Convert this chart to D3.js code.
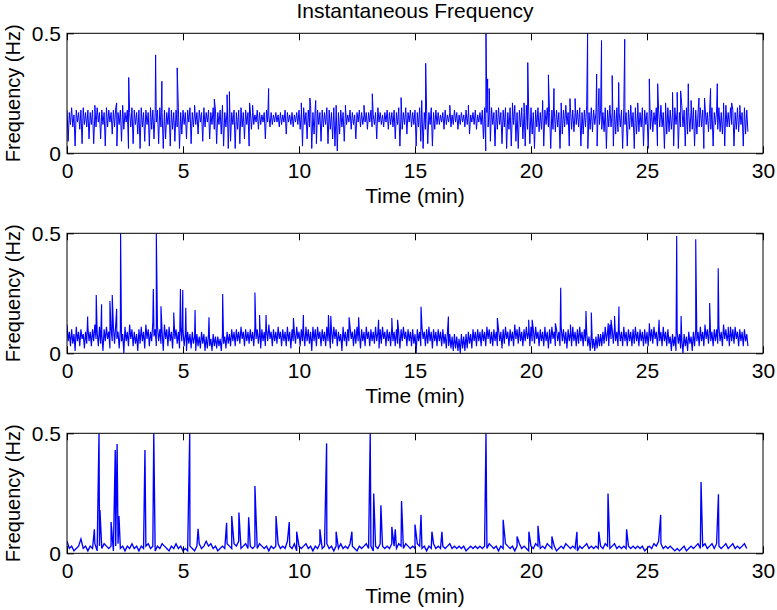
<!DOCTYPE html>
<html><head><meta charset="utf-8">
<script src="https://cdn.jsdelivr.net/npm/d3@7"></script>
<style>
html,body{margin:0;padding:0;background:#fff;}
svg{display:block;}
text{font-family:"Liberation Sans",Arial,Helvetica,sans-serif;fill:#000;}
</style></head><body>
<svg id="chart" width="777" height="610"></svg>
<script>
// ---- Data (time in min, frequency in Hz) ----
const title = "Instantaneous Frequency";
const xLabel = "Time  (min)";
const yLabel = "Frequency (Hz)";
const xTicks = [0, 5, 10, 15, 20, 25, 30];
const yTicks = [0, 0.5];
const yTickLabels = ["0", "0.5"];
const sliceStep = 0.1; // each slice of 0.1 min: upper value, then lower value (half a slice later)

// Panel 1: upper / lower values per 0.1-min slice
const hi1 = [
.18,.17,.19,.16,.18,.17,.18,.19,.17,.18, .17,.18,.16,.19,.17,.18,.17,.19,.18,.17,
.18,.19,.17,.18,.20,.17,.18,.17,.19,.18, .17,.18,.19,.17,.18,.17,.19,.18,.17,.18,
.19,.17,.18,.17,.19,.18,.17,.18,.19,.17, .18,.17,.18,.19,.17,.18,.17,.18,.17,.19,
.17,.18,.17,.19,.18,.17,.18,.20,.17,.18, .19,.17,.18,.17,.18,.19,.17,.18,.17,.18,
.17,.16,.18,.17,.16,.17,.18,.16,.17,.16, .17,.16,.17,.16,.18,.17,.16,.17,.16,.17,
.18,.17,.19,.17,.18,.20,.17,.19,.18,.17, .18,.17,.19,.18,.17,.19,.18,.17,.18,.17,
.17,.16,.18,.17,.16,.17,.18,.17,.16,.17, .17,.18,.16,.17,.19,.17,.16,.17,.18,.17,
.17,.18,.17,.19,.18,.17,.19,.17,.18,.17, .18,.17,.19,.18,.17,.18,.17,.19,.17,.18,
.17,.16,.17,.18,.16,.17,.16,.18,.17,.16, .17,.16,.18,.17,.16,.17,.18,.16,.17,.18,
.19,.17,.18,.19,.17,.18,.19,.17,.18,.19, .17,.19,.18,.20,.17,.18,.19,.17,.20,.18,
.19,.17,.18,.19,.17,.20,.18,.19,.17,.18, .19,.18,.17,.19,.18,.20,.17,.19,.18,.17,
.18,.19,.17,.18,.20,.17,.19,.18,.17,.19, .18,.17,.19,.18,.20,.17,.18,.19,.17,.18,
.19,.17,.18,.20,.17,.19,.18,.17,.19,.18, .17,.19,.18,.17,.19,.18,.20,.17,.18,.19,
.18,.17,.19,.18,.17,.20,.18,.19,.17,.18, .19,.18,.17,.19,.18,.20,.17,.18,.19,.17,
.18,.19,.17,.18,.20,.17,.19,.18,.17,.19, .18,.17,.19,.18];
const lo1 = [
.05,.12,.11,.03,.13,.10,.04,.12,.11,.06, .12,.04,.11,.13,.06,.12,.03,.11,.13,.08,
.11,.03,.12,.05,.10,.13,.02,.11,.04,.12, .08,.02,.11,.05,.12,.03,.10,.06,.13,.04,
.11,.02,.06,.12,.03,.10,.05,.11,.02,.08, .12,.06,.13,.04,.11,.12,.08,.13,.05,.11,
.13,.06,.12,.10,.04,.12,.08,.03,.11,.02, .05,.12,.02,.10,.04,.11,.06,.12,.03,.10,
.12,.13,.10,.12,.13,.06,.13,.11,.12,.13, .13,.11,.12,.13,.08,.13,.12,.11,.13,.12,
.10,.03,.12,.06,.11,.02,.08,.04,.12,.05, .11,.12,.04,.10,.06,.03,.01,.08,.11,.05,
.12,.13,.10,.12,.06,.13,.11,.12,.13,.10, .13,.11,.12,.06,.13,.12,.11,.13,.10,.12,
.11,.06,.12,.03,.10,.12,.08,.13,.11,.12, .03,.11,.05,.02,.10,.04,.12,.03,.10,.12,
.12,.13,.10,.12,.13,.11,.12,.13,.10,.12, .13,.11,.12,.08,.13,.12,.10,.13,.12,.06,
.01,.11,.05,.12,.03,.10,.12,.04,.11,.02, .10,.03,.12,.05,.02,.11,.06,.03,.10,.04,
.08,.02,.11,.09,.10,.03,.12,.11,.02,.10, .09,.11,.02,.08,.11,.12,.03,.10,.09,.12,
.11,.03,.08,.11,.02,.10,.09,.12,.03,.12, .10,.09,.02,.11,.11,.03,.08,.09,.11,.02,
.12,.03,.10,.11,.02,.08,.09,.11,.03,.12, .02,.10,.09,.12,.03,.11,.11,.02,.08,.09,
.10,.03,.12,.02,.11,.11,.03,.08,.09,.10, .03,.08,.11,.11,.02,.12,.09,.10,.03,.12,
.10,.09,.08,.03,.11,.11,.12,.03,.10,.09, .12,.03,.08,.09];
const spikeT1 = [1.2,2.14,2.66,3.82,4.09,4.75,5.5,6.35,6.90,7.00,7.87,8.0,8.69,10.10,10.47,10.72,11.60,12.0,12.8,13.16,14.40,15.29,15.46,16.5,17.3,18.06,18.13,18.20,19.2,19.70,19.86,20.50,20.75,20.99,21.3,21.68,21.90,22.44,22.83,22.93,23.04,23.50,23.78,24.04,24.6,25.10,25.46,25.8,26.10,26.30,26.45,26.78,26.9,27.24,27.48,27.74,28.03,28.3,28.65,29.0];
const spikeV1 = [0.2,0.21,0.316,0.41,0.30,0.356,0.2,0.226,0.244,0.257,0.21,0.2,0.27,0.21,0.23,0.22,0.2,0.2,0.2,0.248,0.232,0.22,0.375,0.2,0.2,0.5,0.31,0.27,0.21,0.21,0.378,0.22,0.327,0.27,0.21,0.228,0.228,0.5,0.33,0.27,0.47,0.324,0.295,0.475,0.21,0.31,0.29,0.21,0.254,0.254,0.26,0.29,0.22,0.23,0.23,0.27,0.29,0.21,0.21,0.2];

// Panel 2: upper / lower values per 0.1-min slice
const hi2 = [
.12,.09,.10,.08,.11,.09,.10,.08,.09,.11, .09,.10,.12,.09,.11,.08,.10,.11,.09,.10,
.11,.12,.09,.10,.08,.11,.09,.12,.10,.09, .08,.10,.11,.09,.12,.10,.09,.13,.10,.11,
.10,.09,.12,.10,.11,.09,.12,.10,.09,.11, .10,.08,.09,.08,.09,.07,.08,.07,.09,.08,
.07,.08,.06,.08,.07,.07,.06,.08,.07,.09, .08,.10,.09,.10,.09,.11,.09,.10,.09,.10,
.09,.11,.10,.09,.10,.09,.10,.12,.09,.10, .09,.11,.09,.10,.09,.11,.09,.10,.09,.11,
.09,.10,.09,.11,.10,.09,.11,.10,.11,.09, .10,.09,.11,.09,.10,.11,.10,.09,.08,.11,
.09,.10,.11,.09,.10,.11,.09,.10,.09,.11, .09,.10,.09,.11,.09,.10,.11,.09,.10,.09,
.11,.09,.10,.09,.10,.11,.09,.10,.09,.10, .08,.10,.09,.11,.09,.10,.11,.09,.10,.09,
.10,.09,.10,.08,.09,.08,.07,.08,.07,.06, .08,.07,.08,.09,.08,.10,.09,.10,.09,.10,
.09,.11,.10,.09,.10,.09,.10,.09,.10,.11, .09,.10,.09,.12,.10,.11,.09,.10,.11,.09,
.11,.10,.11,.09,.10,.09,.11,.09,.10,.11, .09,.10,.09,.11,.10,.09,.10,.09,.11,.09,
.10,.11,.09,.10,.09,.07,.08,.06,.07,.08, .08,.09,.11,.09,.12,.10,.11,.09,.10,.09,
.11,.09,.10,.09,.10,.11,.09,.10,.09,.10, .09,.11,.10,.11,.09,.10,.09,.11,.09,.10,
.07,.08,.07,.09,.08,.06,.08,.07,.09,.07, .09,.10,.09,.11,.09,.12,.10,.11,.09,.10,
.10,.11,.09,.12,.10,.09,.11,.10,.11,.09, .10,.09,.10,.08];
const lo2 = [
.05,.03,.04,.01,.05,.03,.06,.02,.04,.05, .03,.05,.06,.03,.04,.01,.05,.06,.02,.05,
.04,.06,.02,.05,.00,.05,.03,.06,.03,.04, .01,.04,.05,.02,.06,.03,.05,.07,.03,.05,
.04,.01,.06,.03,.05,.02,.06,.04,.02,.05, .03,.01,.04,.02,.04,.01,.03,.02,.04,.01,
.02,.03,.01,.03,.02,.03,.01,.04,.02,.04, .03,.05,.03,.05,.04,.06,.03,.05,.04,.05,
.03,.06,.04,.02,.05,.03,.05,.06,.03,.05, .04,.06,.03,.05,.03,.05,.02,.05,.04,.06,
.03,.05,.03,.05,.04,.01,.05,.03,.06,.03, .05,.03,.05,.02,.04,.06,.03,.05,.01,.05,
.03,.05,.06,.03,.04,.05,.02,.05,.03,.06, .03,.05,.04,.05,.02,.04,.06,.03,.05,.03,
.05,.03,.04,.02,.05,.06,.03,.05,.03,.04, .00,.05,.03,.06,.03,.04,.05,.02,.05,.03,
.05,.03,.04,.02,.03,.02,.01,.02,.01,.00, .02,.01,.02,.04,.02,.05,.03,.05,.03,.05,
.03,.06,.04,.03,.05,.03,.05,.02,.04,.06, .03,.05,.03,.06,.04,.05,.03,.05,.06,.03,
.05,.04,.06,.03,.05,.03,.05,.02,.04,.06, .03,.05,.03,.05,.04,.02,.05,.03,.05,.03,
.04,.05,.03,.05,.03,.01,.02,.01,.02,.03, .03,.04,.05,.03,.06,.04,.05,.03,.05,.03,
.05,.03,.05,.03,.04,.05,.03,.05,.03,.04, .03,.05,.04,.06,.03,.05,.03,.05,.03,.04,
.01,.03,.01,.04,.02,.00,.03,.01,.04,.01, .03,.05,.03,.05,.03,.06,.04,.05,.03,.05,
.04,.05,.03,.06,.05,.03,.05,.04,.06,.03, .05,.03,.05,.03];
const spikeT2 = [0.89,1.26,1.49,1.85,1.95,2.14,2.31,3.72,3.85,4.05,4.60,4.89,4.99,5.12,5.52,6.12,6.71,8.10,8.30,8.58,9.76,10.19,11.27,11.37,12.16,12.57,13.43,14.00,14.25,15.26,16.44,18.55,19.90,20.05,21.05,21.28,21.70,22.37,22.60,23.33,23.45,23.60,23.79,25.10,25.52,26.28,26.47,27.10,27.70,28.07,28.50];
const spikeV2 = [0.153,0.243,0.204,0.218,0.243,0.185,0.5,0.268,0.5,0.196,0.17,0.268,0.264,0.19,0.18,0.15,0.247,0.253,0.16,0.16,0.147,0.16,0.16,0.155,0.15,0.15,0.14,0.147,0.14,0.194,0.153,0.147,0.14,0.14,0.125,0.273,0.12,0.176,0.17,0.125,0.14,0.155,0.195,0.125,0.14,0.489,0.155,0.475,0.21,0.354,0.11];

// Panel 3: one value per 0.1 min
const base3 = [
.05,.02,.03,.01,.02,.03,.06,.02,.03,.01, .03,.02,.04,.01,.03,.02,.04,.03,.02,.03,
.01,.03,.04,.02,.03,.01,.03,.02,.04,.02, .03,.01,.03,.02,.03,.04,.02,.03,.01,.03,
.02,.04,.03,.02,.01,.03,.02,.04,.02,.03, .01,.02,.01,.03,.02,.01,.03,.04,.02,.03,
.05,.03,.04,.02,.03,.01,.02,.03,.02,.04, .03,.02,.04,.03,.05,.02,.03,.04,.02,.03,
.02,.03,.02,.04,.03,.02,.03,.01,.03,.02, .03,.04,.02,.03,.02,.05,.03,.02,.04,.01,
.03,.02,.03,.04,.02,.03,.01,.03,.02,.04, .02,.03,.04,.02,.03,.01,.03,.02,.04,.02,
.03,.02,.04,.03,.02,.01,.03,.02,.03,.04, .02,.03,.01,.03,.02,.04,.03,.02,.03,.02,
.04,.03,.02,.04,.03,.02,.04,.03,.02,.03, .02,.04,.03,.02,.03,.01,.03,.02,.04,.02,
.03,.02,.03,.02,.03,.04,.02,.03,.02,.03, .02,.03,.01,.02,.03,.02,.03,.02,.03,.02,
.03,.02,.04,.03,.02,.03,.01,.03,.02,.04, .03,.02,.03,.01,.03,.04,.02,.03,.02,.01,
.03,.02,.04,.03,.02,.03,.02,.04,.03,.02, .03,.01,.02,.03,.02,.04,.03,.02,.03,.02,
.01,.03,.02,.03,.04,.02,.03,.02,.03,.02, .03,.02,.04,.03,.02,.03,.04,.02,.03,.02,
.03,.02,.03,.02,.03,.02,.03,.02,.03,.01, .02,.03,.02,.04,.03,.05,.04,.02,.03,.02,
.03,.02,.01,.02,.01,.02,.03,.01,.02,.03, .02,.03,.04,.02,.03,.04,.02,.03,.04,.02,
.04,.03,.02,.03,.04,.02,.03,.04,.02,.03, .02,.03,.04,.02];
const spikeT3 = [1.18,1.38,1.42,1.90,2.08,2.16,2.24,3.36,3.74,5.29,5.65,6.88,7.10,7.41,7.83,8.10,9.01,9.58,9.90,10.90,11.19,11.60,12.28,13.07,13.22,13.53,14.00,14.15,14.42,15.00,15.26,15.73,16.16,18.06,18.80,19.40,19.91,20.30,20.90,21.98,22.92,23.32,24.12,25.59,27.33,28.08];
const spikeV3 = [0.10,0.5,0.18,0.13,0.43,0.455,0.155,0.43,0.5,0.5,0.102,0.127,0.155,0.17,0.15,0.28,0.155,0.13,0.09,0.10,0.458,0.09,0.09,0.5,0.249,0.2,0.11,0.10,0.218,0.12,0.16,0.09,0.09,0.5,0.14,0.07,0.09,0.115,0.07,0.09,0.09,0.249,0.10,0.16,0.297,0.246];

// ---- Build point lists ----
function fromSlices(hi, lo) {
  const pts = [];
  hi.forEach((v, k) => {
    pts.push([+(k * sliceStep).toFixed(3), v]);
    pts.push([+(k * sliceStep + sliceStep / 2).toFixed(3), lo[k]]);
  });
  return pts;
}
function fromSeries(vals) {
  return vals.map((v, k) => [+(k * sliceStep).toFixed(3), v]);
}
function withSpikes(pts, st, sv) {
  st.forEach((t, k) => pts.push([t, sv[k]]));
  return pts.sort((a, b) => a[0] - b[0]);
}
const panels = [
  withSpikes(fromSlices(hi1, lo1), spikeT1, spikeV1),
  withSpikes(fromSlices(hi2, lo2), spikeT2, spikeV2),
  withSpikes(fromSeries(base3), spikeT3, spikeV3)
];
const strokeW = [1.0, 1.15, 1.35];

// ---- Layout ----
const svg = d3.select("#chart");
const left = 67, width = 696, height = 120;
const tops = [33.3, 233.3, 433.3];
const FS = 21;
const FONT = '"Liberation Sans",Arial,Helvetica,sans-serif';

svg.append("text").attr("x", left + width/2).attr("y", 18)
  .attr("text-anchor", "middle").style("font-size", FS + "px").text(title);

const x = d3.scaleLinear().domain([0, 30]).range([0, width]);
const y = d3.scaleLinear().domain([0, 0.5]).range([height, 0]);

panels.forEach((pts, i) => {
  const g = svg.append("g").attr("transform", `translate(${left},${tops[i]})`);
  g.append("clipPath").attr("id", "clip" + i)
    .append("rect").attr("x", 0).attr("y", 0).attr("width", width).attr("height", height);
  g.append("path").datum(pts)
    .attr("clip-path", `url(#clip${i})`)
    .attr("fill", "none").attr("stroke", "#0000ff").attr("stroke-width", strokeW[i])
    .attr("d", d3.line().x(d => x(d[0])).y(d => y(d[1])));

  const ax = g.append("g").attr("transform", `translate(0,${height})`)
    .call(d3.axisBottom(x).tickValues(xTicks).tickFormat(d3.format("d")).tickSize(-7).tickPadding(10));
  const axT = g.append("g")
    .call(d3.axisTop(x).tickValues(xTicks).tickFormat("").tickSize(-7));
  const ay = g.append("g")
    .call(d3.axisLeft(y).tickValues(yTicks).tickFormat((d, k) => yTickLabels[k]).tickSize(-7).tickPadding(6));
  const ayR = g.append("g").attr("transform", `translate(${width},0)`)
    .call(d3.axisRight(y).tickValues(yTicks).tickFormat("").tickSize(-7));
  [ax, axT, ay, ayR].forEach(a => {
    a.select(".domain").remove();
    a.selectAll("line").attr("stroke", "#000");
    a.selectAll("text").style("font-size", FS + "px").attr("fill", "#000").style("font-family", FONT);
  });
  g.append("rect").attr("x", 0).attr("y", 0).attr("width", width).attr("height", height)
    .attr("fill", "none").attr("stroke", "#000").attr("stroke-width", 1);

  g.append("text").attr("x", width/2).attr("y", height + 50)
    .attr("text-anchor", "middle").style("font-size", FS + "px").text(xLabel);
  g.append("text").attr("transform", `translate(${20 - left},${height/2}) rotate(-90)`)
    .attr("text-anchor", "middle").style("font-size", "20px").text(yLabel);
});
</script>
</body></html>
